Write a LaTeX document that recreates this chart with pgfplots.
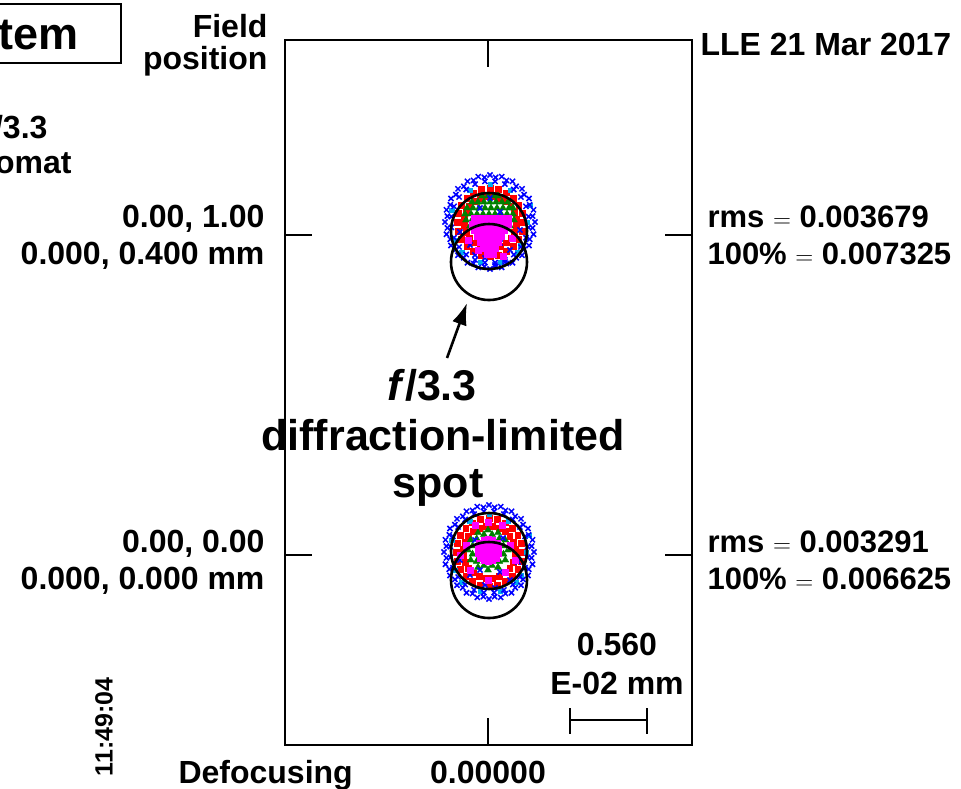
\documentclass[border=0pt]{standalone}
\usepackage{fontspec}
\setmainfont{Liberation Sans}
\usepackage{pgfplots}
\pgfplotsset{compat=1.18}
\usetikzlibrary{arrows.meta}
\definecolor{spotgreen}{RGB}{0,128,0}
\definecolor{spotmag}{RGB}{255,0,255}

\begin{document}
\begin{tikzpicture}[every node/.append style={font=\fontsize{32}{38}\selectfont\bfseries}]
\path[use as bounding box] (0pt,0pt) rectangle (961pt,-788pt);
\begin{axis}[
    at={(285pt,-745pt)}, anchor=south west,
    width=407pt, height=705pt, scale only axis,
    xmin=285, xmax=692, ymin=40, ymax=745, y dir=reverse,
    xtick={488}, ytick={235,555}, xticklabels={}, yticklabels={},
    major tick length=27pt,
    tick style={line width=2pt, black},
    axis line style={line width=2.2pt},
    clip=false
]
% red squares
\addplot[only marks, mark=square*, mark size=2.9pt, red] coordinates {
(523,222)(521.9,213.2)(518.6,205)(513.3,198)(506.5,192.6)(498.5,189.2)(490,188)(481.5,189.2)(473.5,192.6)(466.7,198)(461.4,205)(458.1,213.2)
(457,222)(458.1,230.8)(461.4,239)(466.7,246)(473.5,251.4)(481.5,254.8)(490,256)(498.5,254.8)(506.5,251.4)(513.3,246)(518.6,239)(521.9,230.8)
(515.8,218.6)(514,212)(510.6,206.2)(505.8,201.4)(500,198)(493.4,196.2)(486.6,196.2)(480,198)(474.2,201.4)(469.4,206.2)(466,212)(464.2,218.6)
(464.2,225.4)(466,232)(469.4,237.8)(474.2,242.6)(480,246)(486.6,247.8)(493.4,247.8)(500,246)(505.8,242.6)(510.6,237.8)(514,232)(515.8,225.4)
(522,552)(520.9,543.2)(517.6,535)(512.3,528)(505.5,522.6)(497.5,519.2)(489,518)(480.5,519.2)(472.5,522.6)(465.7,528)(460.4,535)(457.1,543.2)
(456,552)(457.1,560.8)(460.4,569)(465.7,576)(472.5,581.4)(480.5,584.8)(489,586)(497.5,584.8)(505.5,581.4)(512.3,576)(517.6,569)(520.9,560.8)
(514.8,548.6)(513,542)(509.6,536.2)(504.8,531.4)(499,528)(492.4,526.2)(485.6,526.2)(479,528)(473.2,531.4)(468.4,536.2)(465,542)(463.2,548.6)
(463.2,555.4)(465,562)(468.4,567.8)(473.2,572.6)(479,576)(485.6,577.8)(492.4,577.8)(499,576)(504.8,572.6)(509.6,567.8)(513,562)(514.8,555.4)
};
% cyan
\addplot[only marks, mark=square*, mark size=2.3pt, cyan] coordinates {
(527,222)(470,190)(510,190)(455,240)(520,245)(480,262)(500,262)(452,210)(530,205)(490,184)(462,252)(517,252)
(526,552)(470,521)(508,521)(455,570)(521,575)(480,591)(500,591)(452,540)(529,535)(489,514)(462,582)(516,582)
};
% green
\addplot[only marks, mark=triangle*, mark size=4pt, spotgreen] coordinates {
(482,196)(488,196)(494,196)(498,196)
(472,202)(478,202)(484,202)(490,202)(496,202)(502,202)(508,202)
(467,208)(473,208)(479,208)(485,208)(491,208)(497,208)(503,208)(509,208)(513,208)
(465,214)(471,214)(477,214)(483,214)(489,214)(495,214)(501,214)(507,214)(513,214)
(466,220)(472,220)(478,220)(484,220)(490,220)(496,220)(502,220)(508,220)(514,220)
(470,226)(476,226)(482,226)(488,226)(494,226)(500,226)(506,226)(510,226)
(508,550)(505.3,540)(498,532.7)(488,530)(478,532.7)(470.7,540)(468,550)(470.7,560)(478,567.3)(488,570)(498,567.3)(505.3,560)
(503.5,545.9)(499.3,538.7)(492.1,534.5)(483.9,534.5)(476.7,538.7)(472.5,545.9)(472.5,554.1)(476.7,561.3)(483.9,565.5)(492.1,565.5)(499.3,561.3)(503.5,554.1)
};
% blue crosses
\addplot[only marks, mark=x, mark size=3.6pt, line width=1.5pt, blue] coordinates {
(535,222)(533.5,209.8)(529,198.5)(522,188.8)(512.5,181.3)(501.7,176.6)(490,175)(478.3,176.6)(467.5,181.3)(458,188.8)(451,198.5)(446.5,209.8)
(445,222)(446.5,234.2)(451,245.5)(458,255.2)(467.5,262.7)(478.3,267.4)(490,269)(501.7,267.4)(512.5,262.7)(522,255.2)(529,245.5)(533.5,234.2)
(528.6,216.6)(526,206.3)(520.9,197)(513.8,189.5)(504.9,184.1)(495.1,181.4)(484.9,181.4)(475.1,184.1)(466.2,189.5)(459.1,197)(454,206.3)(451.4,216.6)
(451.4,227.4)(454,237.7)(459.1,247)(466.2,254.5)(475.1,259.9)(484.9,262.6)(495.1,262.6)(504.9,259.9)(513.8,254.5)(520.9,247)(526,237.7)(528.6,227.4)
(532.6,216.1)(529.7,204.8)(524.1,194.6)(516.2,186.3)(506.5,180.4)(495.6,177.4)(484.4,177.4)(473.5,180.4)(463.8,186.3)(455.9,194.6)(450.3,204.8)(447.4,216.1)
(447.4,227.9)(450.3,239.2)(455.9,249.4)(463.8,257.7)(473.5,263.6)(484.4,266.6)(495.6,266.6)(506.5,263.6)(516.2,257.7)(524.1,249.4)(529.7,239.2)(532.6,227.9)
(470,245)(480,240)(500,243)(510,250)(485,258)(495,265)(460,232)(520,230)(475,255)(505,262)(480,208)(500,212)(490,198)
(534,552)(532.5,539.8)(528,528.5)(521,518.8)(511.5,511.3)(500.7,506.6)(489,505)(477.3,506.6)(466.5,511.3)(457,518.8)(450,528.5)(445.5,539.8)
(444,552)(445.5,564.2)(450,575.5)(457,585.2)(466.5,592.7)(477.3,597.4)(489,599)(500.7,597.4)(511.5,592.7)(521,585.2)(528,575.5)(532.5,564.2)
(527.6,546.6)(525,536.3)(519.9,527)(512.8,519.5)(503.9,514.1)(494.1,511.4)(483.9,511.4)(474.1,514.1)(465.2,519.5)(458.1,527)(453,536.3)(450.4,546.6)
(450.4,557.4)(453,567.7)(458.1,577)(465.2,584.5)(474.1,589.9)(483.9,592.6)(494.1,592.6)(503.9,589.9)(512.8,584.5)(519.9,577)(525,567.7)(527.6,557.4)
(531.6,546.1)(528.7,534.8)(523.1,524.6)(515.2,516.3)(505.5,510.4)(494.6,507.4)(483.4,507.4)(472.5,510.4)(462.8,516.3)(454.9,524.6)(449.3,534.8)(446.4,546.1)
(446.4,557.9)(449.3,569.2)(454.9,579.4)(462.8,587.7)(472.5,593.6)(483.4,596.6)(494.6,596.6)(505.5,593.6)(515.2,587.7)(523.1,579.4)(528.7,569.2)(531.6,557.9)
(470,575)(480,570)(500,572)(510,580)(485,585)(495,588)(460,560)(518,562)(475,540)(503,538)
};
% magenta
\addplot[only marks, mark=square*, mark size=3.2pt, spotmag] coordinates {
(474,218)(480,218)(486,218)(492,218)(498,218)(504,218)(508,218)
(472,224)(478,224)(484,224)(490,224)(496,224)(502,224)(508,224)
(474,230)(480,230)(486,230)(492,230)(498,230)(504,230)
(477,236)(483,236)(489,236)(495,236)(501,236)
(480,242)(486,242)(492,242)(498,242)
(483,248)(489,248)(495,248)
(487,254)(493,254)
(468,240)(512,238)(503,256)(478,250)
(488,550)(482,550)(494,550)(488,544)(488,556)(483,545)(493,545)(483,555)(493,555)(478,548)(498,548)(478,553)
(498,553)(488,539)(484,540)(492,540)(488,561)(484,560)(492,560)(479,543)(497,543)(480,558)(496,558)
(466,545)(510,545)(470,570)(505,572)(488,580)(475,525)(502,525)(460,555)(515,560)(488,522)
};
% diffraction-limited spot circles
\addplot[only marks, mark=o, mark size=38pt, line width=2.6pt, black] coordinates {
(489,231)(489,262)(489,551)(489,580)
};
% scale bar
\draw[line width=2pt] (axis cs:570,720) -- (axis cs:647,720);
\draw[line width=2pt] (axis cs:570,708) -- (axis cs:570,734);
\draw[line width=2pt] (axis cs:647,708) -- (axis cs:647,734);
\node[anchor=base] at (axis cs:617,655) {0.560};
\node[anchor=base] at (axis cs:617,694) {E-02 mm};
% arrow and annotation
\draw[line width=2.6pt, -{Latex[length=22pt,width=15pt]}] (axis cs:447,358) -- (axis cs:467,303);
\node[anchor=base, font=\fontsize{43}{50}\selectfont\bfseries] at (axis cs:432,400) {\textit{f}/3.3};
\node[anchor=base, font=\fontsize{43}{50}\selectfont\bfseries] at (axis cs:443,450) {diffraction-limited};
\node[anchor=base, font=\fontsize{43}{50}\selectfont\bfseries] at (axis cs:438,497) {spot};
% left labels
\node[anchor=base east] at (axis cs:271,37) {Field};
\node[anchor=base east] at (axis cs:271,69) {position};
\node[anchor=base east] at (axis cs:268,227) {0.00, 1.00};
\node[anchor=base east] at (axis cs:268,264) {0.000, 0.400 mm};
\node[anchor=base east] at (axis cs:268,552) {0.00, 0.00};
\node[anchor=base east] at (axis cs:268,589) {0.000, 0.000 mm};
% right labels
\node[anchor=base west] at (axis cs:697,55) {LLE 21 Mar 2017};
\begin{scope}[every node/.append style={font=\fontsize{31}{37}\selectfont\bfseries}]
\node[anchor=base west] at (axis cs:704,227) {rms $=$ 0.003679};
\node[anchor=base west] at (axis cs:704,264) {100\% $=$ 0.007325};
\node[anchor=base west] at (axis cs:704,552) {rms $=$ 0.003291};
\node[anchor=base west] at (axis cs:704,589) {100\% $=$ 0.006625};
\end{scope}
% bottom labels
\node[anchor=base west] at (axis cs:175,783) {Defocusing};
\node[anchor=base] at (axis cs:488,783) {0.00000};
\node[rotate=90, font=\fontsize{25}{30}\selectfont\bfseries] at (axis cs:104,727) {11:49:04};
% header clipped at the left edge
\draw[line width=2pt] (axis cs:-150,4) rectangle (axis cs:121,63);
\node[anchor=base east, font=\fontsize{45}{52}\selectfont\bfseries] at (axis cs:82,49) {System};
\node[anchor=base east] at (axis cs:51,138) {\textit{f}/3.3};
\node[anchor=base east] at (axis cs:75,173) {Apochromat};
\end{axis}
\end{tikzpicture}
\end{document}
